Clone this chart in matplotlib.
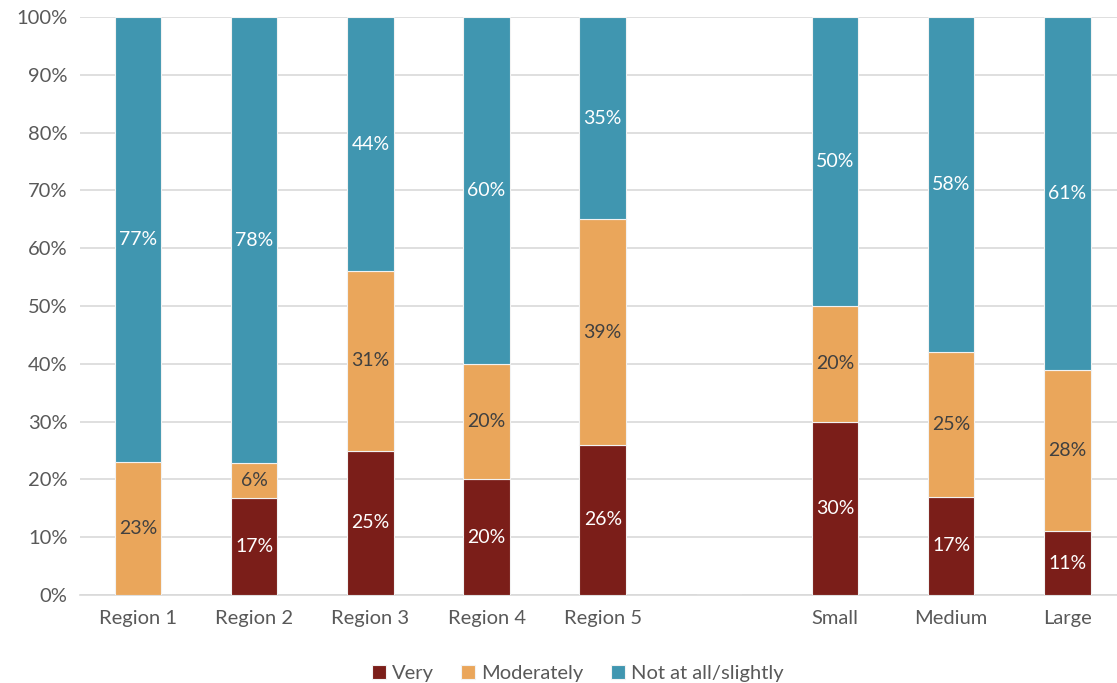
import numpy as np
import matplotlib.pyplot as plt

plt.rcParams["font.family"] = ["Lato", "DejaVu Sans"]

categories = ["Region 1", "Region 2", "Region 3", "Region 4", "Region 5", "",
              "Small", "Medium", "Large"]
very = [0, 17, 25, 20, 26, np.nan, 30, 17, 11]
moderately = [23, 6, 31, 20, 39, np.nan, 20, 25, 28]
not_at_all = [77, 78, 44, 60, 35, np.nan, 50, 58, 61]

series = [("Very", very, "#7b1e19", "white"),
          ("Moderately", moderately, "#eaa65b", "#404040"),
          ("Not at all/slightly", not_at_all, "#4096b0", "white")]

values = np.array([s[1] for s in series], dtype=float)
shares = values / np.nansum(values, axis=0) * 100  # 100% stacked

fig = plt.figure(figsize=(11.17, 6.83), dpi=100)
ax = fig.add_axes([0.0716, 0.1288, 0.936, 0.8463])

x = np.arange(len(categories))
bottom = np.zeros(len(categories))
for (name, raw, color, txt), share in zip(series, shares):
    h = np.nan_to_num(share)
    ax.bar(x, h, 0.4, bottom=bottom, color=color, edgecolor="#f2f2f2",
           linewidth=0.8, label=name, zorder=3)
    for xi, b, hi, r in zip(x, bottom, h, raw):
        if np.isnan(r) or r == 0:
            continue
        ax.text(xi, b + hi / 2, f"{r:.0f}%", ha="center", va="center",
                color=txt, fontsize=14, zorder=4)
    bottom += h

ax.set_xlim(-0.5, len(categories) - 0.5)
ax.set_ylim(0, 100)
ax.set_yticks(np.arange(0, 101, 10))
ax.set_yticklabels([f"{v}%" for v in range(0, 101, 10)])
ax.set_xticks(x)
ax.set_xticklabels(categories)
ax.tick_params(axis="both", length=0, labelsize=14.5, colors="#595959")
ax.tick_params(axis="x", pad=11)
ax.tick_params(axis="y", pad=9)
ax.grid(axis="y", color="#d9d9d9", linewidth=1.2, zorder=0)
for side in ["top", "right", "left"]:
    ax.spines[side].set_visible(False)
ax.spines["bottom"].set_color("#d9d9d9")
ax.spines["bottom"].set_linewidth(1.2)

ax.legend(loc="center", bbox_to_anchor=((0.517 - 0.0716) / 0.936, -0.135),
          ncol=3, frameon=False, fontsize=14.5, handlelength=0.7,
          handleheight=0.7, handletextpad=0.3, columnspacing=1.35,
          labelcolor="#595959")

fig.savefig("out.png", dpi=100)
